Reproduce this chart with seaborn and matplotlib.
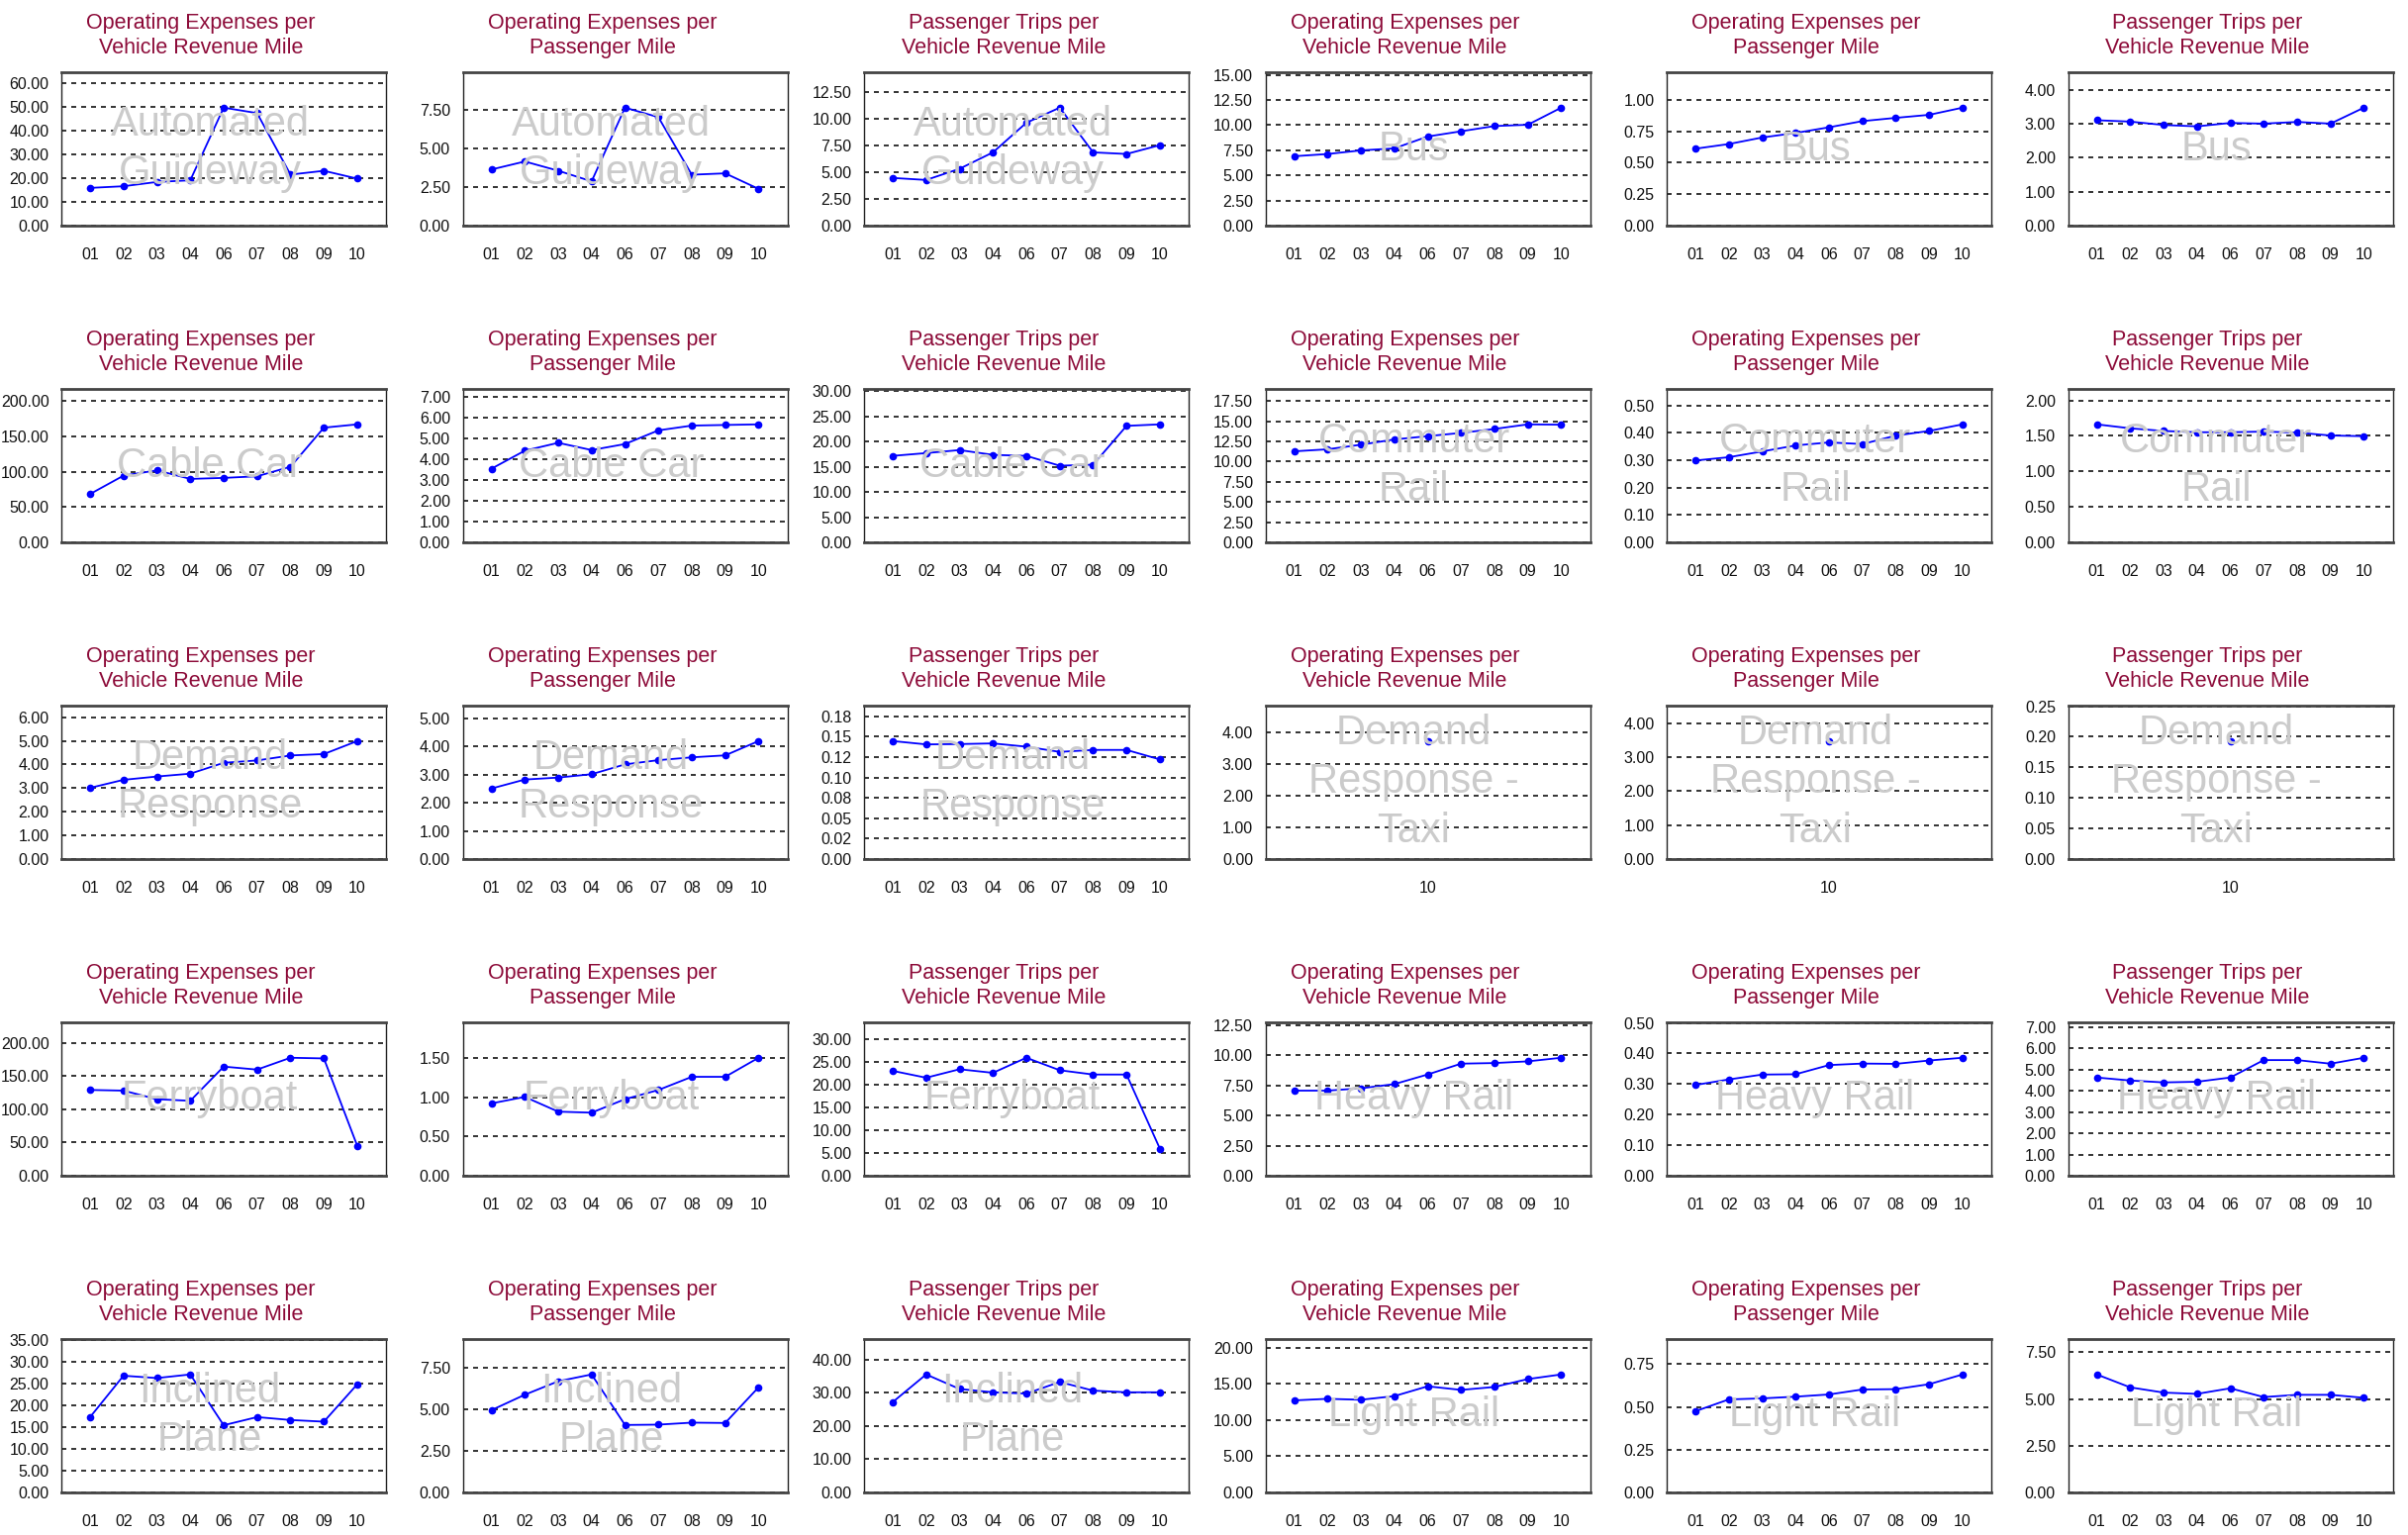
import pandas as pd
import matplotlib.pyplot as plt
import seaborn as sns
from matplotlib.ticker import MultipleLocator, FuncFormatter
from decimal import Decimal, ROUND_HALF_EVEN

plt.switch_backend('Agg')

# fiscal years shown on the x axis (no 05 in the source)
years = ['01', '02', '03', '04', '06', '07', '08', '09', '10']
taxi_years = ['10']

metric_titles = [
    'Operating Expenses per\nVehicle Revenue Mile',
    'Operating Expenses per\nPassenger Mile',
    'Passenger Trips per\nVehicle Revenue Mile',
]

modes = ['Automated\nGuideway', 'Bus', 'Cable Car', 'Commuter\nRail',
         'Demand\nResponse', 'Demand\nResponse -\nTaxi', 'Ferryboat',
         'Heavy Rail', 'Inclined\nPlane', 'Light Rail']

# per mode: [opex / vrm, opex / passenger mile, trips / vrm]
automated_guideway = [
    [15.9, 16.6, 18.4, 19.1, 49.7, 47.4, 21.5, 23.1, 19.8],
    [3.65, 4.17, 3.57, 2.88, 7.67, 7.05, 3.31, 3.40, 2.39],
    [4.48, 4.29, 5.34, 6.88, 9.66, 11.08, 6.88, 6.73, 7.56],
]
bus = [
    [6.90, 7.12, 7.48, 7.68, 8.86, 9.38, 9.90, 10.03, 11.73],
    [0.611, 0.648, 0.700, 0.736, 0.781, 0.830, 0.856, 0.880, 0.937],
    [3.10, 3.06, 2.96, 2.92, 3.02, 3.00, 3.05, 3.00, 3.47],
]
cable_car = [
    [68.4, 94.4, 101.9, 89.8, 91.2, 93.5, 107.0, 162.3, 167.0],
    [3.55, 4.42, 4.80, 4.45, 4.74, 5.40, 5.63, 5.66, 5.69],
    [17.15, 17.7, 18.3, 17.35, 17.15, 15.2, 15.4, 23.1, 23.4],
]
commuter_rail = [
    [11.27, 11.52, 12.09, 12.74, 13.15, 13.55, 14.04, 14.61, 14.57],
    [0.299, 0.311, 0.332, 0.354, 0.365, 0.359, 0.390, 0.407, 0.431],
    [1.662, 1.606, 1.569, 1.551, 1.551, 1.560, 1.546, 1.505, 1.495],
]
demand_response = [
    [3.01, 3.35, 3.49, 3.61, 4.07, 4.17, 4.38, 4.44, 4.99],
    [2.51, 2.83, 2.90, 3.02, 3.37, 3.52, 3.62, 3.69, 4.20],
    [0.1448, 0.1407, 0.1411, 0.1419, 0.1379, 0.1315, 0.1339, 0.1339, 0.1222],
]
demand_response_taxi = [
    [3.74],
    [3.47],
    [0.193],
]
ferryboat = [
    [128.9, 127.9, 115.0, 112.6, 164.0, 159.5, 177.3, 176.3, 44.9],
    [0.922, 1.005, 0.817, 0.804, 0.976, 1.093, 1.261, 1.261, 1.504],
    [23.0, 21.5, 23.36, 22.57, 25.88, 23.14, 22.2, 22.2, 5.91],
]
heavy_rail = [
    [7.07, 7.07, 7.26, 7.61, 8.41, 9.31, 9.36, 9.50, 9.80],
    [0.297, 0.315, 0.331, 0.332, 0.362, 0.367, 0.366, 0.377, 0.386],
    [4.62, 4.48, 4.39, 4.42, 4.62, 5.44, 5.44, 5.27, 5.55],
]
inclined_plane = [
    [17.3, 26.8, 26.26, 27.09, 15.43, 17.3, 16.63, 16.25, 24.83],
    [4.95, 5.88, 6.69, 7.10, 4.06, 4.08, 4.20, 4.18, 6.33],
    [27.16, 35.46, 31.1, 30.1, 29.7, 33.2, 30.6, 30.1, 30.1],
]
light_rail = [
    [12.73, 12.95, 12.82, 13.32, 14.68, 14.18, 14.59, 15.68, 16.32],
    [0.475, 0.544, 0.550, 0.560, 0.573, 0.602, 0.604, 0.633, 0.690],
    [6.31, 5.62, 5.34, 5.27, 5.57, 5.10, 5.22, 5.22, 5.06],
]

mode_values = [automated_guideway, bus, cable_car, commuter_rail,
               demand_response, demand_response_taxi, ferryboat,
               heavy_rail, inclined_plane, light_rail]

# y tick spacing for each panel (as the source charts chose it)
tick_steps = [
    [10, 2.5, 2.5], [2.5, 0.25, 1], [50, 1, 5], [2.5, 0.1, 0.5],
    [1, 1, 0.025], [1, 1, 0.05], [50, 0.5, 5], [2.5, 0.1, 1],
    [5, 2.5, 10], [5, 0.25, 2.5],
]


def fmt_tick(v, pos):
    d = Decimal(str(round(float(v), 6))).quantize(Decimal('0.01'), rounding=ROUND_HALF_EVEN)
    return str(d)


sns.set_theme(style='white')
plt.rcParams['font.family'] = ['Liberation Sans', 'DejaVu Sans']

W, H = 2433, 1551
fig = plt.figure(figsize=(W / 100, H / 100), dpi=100)
cell_w = W / 6

for r in range(5):
    for c in range(6):
        m = r * 2 + c // 3
        k = c % 3
        vals = mode_values[m][k]
        yrs = taxi_years if len(vals) == 1 else years
        df = pd.DataFrame({'year': yrs, 'value': vals})

        x0 = cell_w * c
        top = 73 + 320 * r
        ax = fig.add_axes([(x0 + 62) / W, (H - top - 155) / H, 328 / W, 155 / H])

        sns.lineplot(data=df, x='year', y='value', ax=ax, sort=False,
                     color='#0000ff', linewidth=1.3, marker='o',
                     markersize=5.5, markeredgewidth=0, zorder=3)

        n = len(yrs)
        ax.set_xlim(-0.86, n - 1 + 0.86)
        ax.set_ylim(0, max(vals) * 1.3)
        ax.yaxis.set_major_locator(MultipleLocator(tick_steps[m][k]))
        ax.yaxis.set_major_formatter(FuncFormatter(fmt_tick))
        ax.set_xlabel('')
        ax.set_ylabel('')
        ax.tick_params(axis='both', length=0, labelsize=11.5, colors='#111111')
        ax.tick_params(axis='x', pad=16)
        ax.tick_params(axis='y', pad=9)
        ax.yaxis.grid(True, linestyle=(0, (3, 3)), color='#111111', linewidth=1.2)
        ax.xaxis.grid(False)
        ax.set_axisbelow(True)
        for side in ['left', 'right']:
            ax.spines[side].set_color('#222222')
            ax.spines[side].set_linewidth(1.0)
        for side in ['top', 'bottom']:
            ax.spines[side].set_color('#444444')
            ax.spines[side].set_linewidth(2.0)

        # watermark with the mode name, drawn over the line
        wm_x = (212 - 62) / 328
        ax.text(wm_x, 0.5, modes[m], transform=ax.transAxes, ha='center',
                va='center', fontsize=30, color='#cbcbcb', linespacing=1.32,
                zorder=6)

        fig.text((x0 + 203) / W, (H - top + 14) / H, metric_titles[k],
                 ha='center', va='bottom', fontsize=15.5, color='#8c0a38',
                 linespacing=1.25)

fig.savefig('out.png', dpi=100)
plt.close(fig)
